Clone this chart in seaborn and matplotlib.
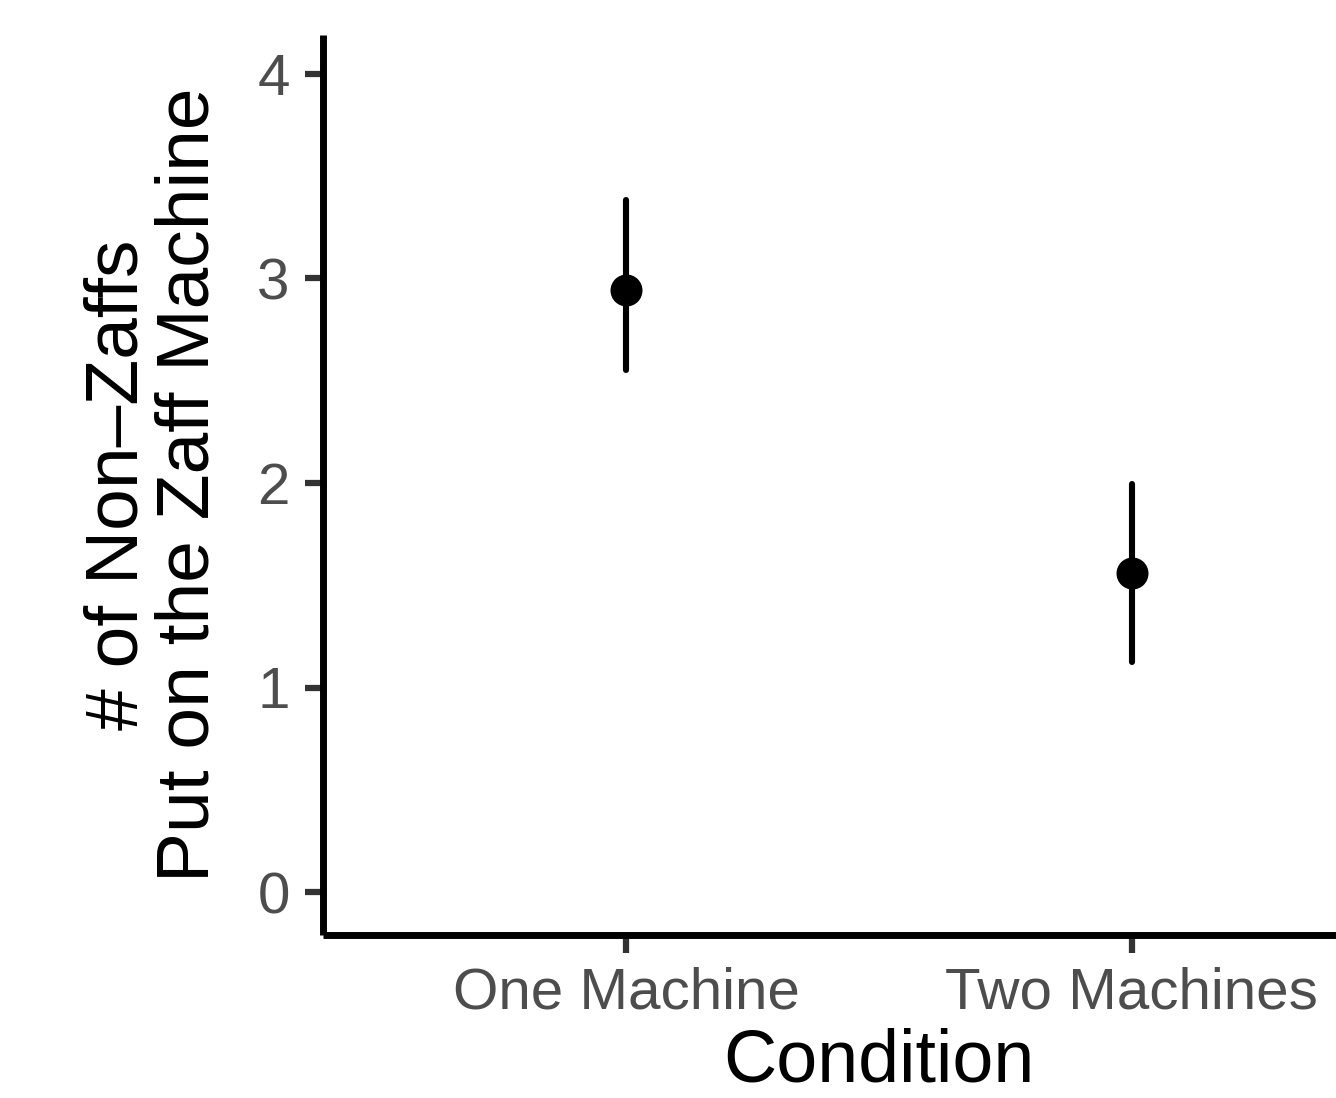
import matplotlib
matplotlib.use("Agg")
import matplotlib.pyplot as plt
import seaborn as sns
import pandas as pd

# Data
conditions = ["One Machine", "Two Machines"]
means = [2.944, 1.56]
ci_low = [2.553, 1.125]
ci_high = [3.384, 1.995]
y_ticks = [0, 1, 2, 3, 4]

rows = []
for c, m, lo, hi in zip(conditions, means, ci_low, ci_high):
    for v in (lo, m, hi):
        rows.append({"Condition": c, "value": v})
df = pd.DataFrame(rows)

sns.set_theme(style="white")
plt.rcParams["font.family"] = ["Liberation Sans", "DejaVu Sans"]

fig = plt.figure(figsize=(13.36, 10.98), dpi=100)
ax = fig.add_axes([323 / 1336, (1098 - 935) / 1098, (1435 - 323) / 1336, (935 - 35) / 1098])

sns.pointplot(
    data=df, x="Condition", y="value", order=conditions,
    estimator="median", errorbar=lambda v: (v.min(), v.max()),
    color="black", linestyle="none", markersize=21, capsize=0,
    err_kws={"linewidth": 4.4, "color": "black"}, ax=ax,
)

ax.set_xlim(-0.6, 1.6)
ax.set_ylim(-0.21, 4.19)
ax.set_yticks(y_ticks)
ax.set_yticklabels([str(t) for t in y_ticks])

for side in ("top", "right"):
    ax.spines[side].set_visible(False)
for side in ("left", "bottom"):
    ax.spines[side].set_linewidth(5)
    ax.spines[side].set_color("black")
    ax.spines[side].set_capstyle("butt")

ax.tick_params(axis="both", direction="out", length=13, width=4.5, color="#333333",
               labelsize=42, labelcolor="#4D4D4D", left=True, bottom=True)
ax.tick_params(axis="y", pad=11)
ax.tick_params(axis="x", pad=10)

ax.set_xlabel("Condition", fontsize=53, color="black", labelpad=5)
ax.set_ylabel("# of Non\u2013Zaffs\nPut on the Zaff Machine", fontsize=54, color="black",
              labelpad=24, linespacing=1.05)
ax.grid(False)

fig.savefig("out.png", dpi=100)
